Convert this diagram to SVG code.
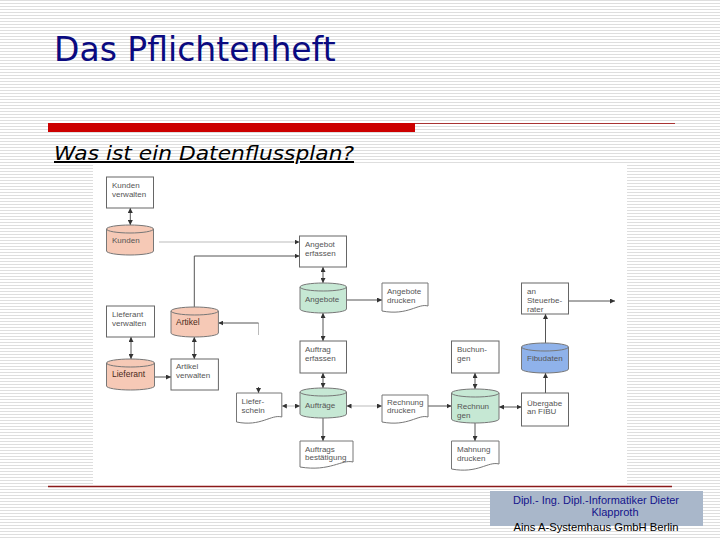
<svg xmlns="http://www.w3.org/2000/svg" width="720" height="540" viewBox="0 0 720 540">
<defs>
<pattern id="stripes" width="8" height="3" patternUnits="userSpaceOnUse">
<rect width="8" height="3" fill="#ffffff"/>
<rect width="8" height="1" fill="#dedede"/>
</pattern>
<marker id="ah" viewBox="0 0 10 10" refX="10" refY="5" markerWidth="5" markerHeight="5" markerUnits="userSpaceOnUse" orient="auto-start-reverse">
<path d="M0,0 L10,5 L0,10 z" fill="#333"/>
</marker>
</defs>
<style>
.box{fill:#fff;stroke:#666;stroke-width:1}
.doc{fill:#fff;stroke:#777;stroke-width:1}
.cs{fill:#f6c9b6;stroke:#777;stroke-width:1}
.cg{fill:#c6e8d4;stroke:#777;stroke-width:1}
.cb{fill:#8fb2ea;stroke:#777;stroke-width:1}
.rim{fill:none;stroke:#777;stroke-width:1}
.t{font-family:"Liberation Sans",Arial,sans-serif;font-size:8px;fill:#555}
.td{font-family:"Liberation Sans",Arial,sans-serif;font-size:8.5px;fill:#4a2a20}
.c{fill:none;stroke:#555;stroke-width:1}
.cl{fill:none;stroke:#bbb;stroke-width:1}
.b{marker-end:url(#ah)}
.bb{marker-start:url(#ah);marker-end:url(#ah)}
</style>
<rect width="720" height="540" fill="url(#stripes)"/>
<text x="54" y="61" font-family="DejaVu Sans, Verdana, sans-serif" font-size="33" fill="#0a0a80">Das Pflichtenheft</text>
<rect x="48" y="123" width="367" height="9" fill="#cc0000"/>
<line x1="415" y1="123.5" x2="675" y2="123.5" stroke="#a83232" stroke-width="1"/>
<text x="54" y="160" font-family="DejaVu Sans, Verdana, sans-serif" font-style="italic" font-size="20" fill="#000" text-decoration="underline" textLength="300" lengthAdjust="spacingAndGlyphs">Was ist ein Datenflussplan?</text>
<rect x="93" y="165" width="534" height="320" fill="#ffffff"/>
<line x1="48" y1="486.5" x2="672" y2="486.5" stroke="#8b1a1a" stroke-width="1.5"/>

<g id="connectors">
<path class="c bb" d="M130.3,208 V225"/>
<path class="cl b" d="M159,242 H299.5"/>
<path class="c b" d="M194.3,307 V256 H299.5"/>
<path class="c bb" d="M323,267 V283"/>
<path class="c b" d="M346.5,300 H382" stroke-width="1.6"/>
<path class="c bb" d="M323,313 V341"/>
<path class="c bb" d="M131,337 V359"/>
<path class="c bb" d="M194.3,337 V359"/>
<path class="c b" d="M154.4,377 H171"/>
<path class="cl" d="M258.5,335 V323"/>
<path class="c b" d="M258.5,323 H218.4"/>
<path class="c b" d="M258.5,387 V393"/>
<path class="c bb" d="M323,373 V388"/>
<path class="cl bb" d="M281.8,406 H300"/>
<path class="cl bb" d="M346.5,406 H382"/>
<path class="c b" d="M323,418 V441"/>
<path class="c b" d="M428,406 H451.5"/>
<path class="c bb" d="M475,373 V389"/>
<path class="c b" d="M475,423 V441"/>
<path class="c bb" d="M499,407 H521.5"/>
<path class="c b" d="M545.5,393 V373"/>
<path class="c b" d="M545.5,343 V314"/>
<path class="c b" d="M568.5,301 H615"/>
</g>

<g id="kunden-verwalten">
<rect class="box" x="106.5" y="177" width="47" height="31"/>
<text class="t" x="112" y="188">Kunden</text>
<text class="t" x="112" y="196.5">verwalten</text>
</g>
<g id="kunden">
<path class="cs" d="M106.5,229 A23.5,4 0 0 1 153.5,229 V251 A23.5,4 0 0 1 106.5,251 Z"/>
<path class="rim" d="M106.5,229 A23.5,4 0 0 0 153.5,229"/>
<text class="t" x="112" y="243">Kunden</text>
</g>
<g id="angebot-erfassen">
<rect class="box" x="299.5" y="236" width="47" height="31"/>
<text class="t" x="305" y="246.5">Angebot</text>
<text class="t" x="305" y="255.5">erfassen</text>
</g>
<g id="angebote">
<path class="cg" d="M300,287 A23.25,4 0 0 1 346.5,287 V309 A23.25,4 0 0 1 300,309 Z"/>
<path class="rim" d="M300,287 A23.25,4 0 0 0 346.5,287"/>
<text class="t" x="305" y="301.5">Angebote</text>
</g>
<g id="angebote-drucken">
<path class="doc" d="M382,311 V283 H428 V306 C418,303 408,316 382,311 Z"/>
<text class="t" x="387" y="294">Angebote</text>
<text class="t" x="387" y="302.5">drucken</text>
</g>
<g id="lieferant-verwalten">
<rect class="box" x="106.5" y="306" width="48" height="31"/>
<text class="t" x="112" y="316.5">Lieferant</text>
<text class="t" x="112" y="325.5">verwalten</text>
</g>
<g id="artikel">
<path class="cs" d="M171,311 A23.7,4 0 0 1 218.4,311 V333 A23.7,4 0 0 1 171,333 Z"/>
<path class="rim" d="M171,311 A23.7,4 0 0 0 218.4,311"/>
<text class="td" x="176" y="325">Artikel</text>
</g>
<g id="lieferant">
<path class="cs" d="M106.5,363 A24,4 0 0 1 154.5,363 V386 A24,4 0 0 1 106.5,386 Z"/>
<path class="rim" d="M106.5,363 A24,4 0 0 0 154.5,363"/>
<text class="td" x="112" y="376.5">Lieferant</text>
</g>
<g id="artikel-verwalten">
<rect class="box" x="171" y="359" width="47.4" height="31"/>
<text class="t" x="176" y="369">Artikel</text>
<text class="t" x="176" y="378">verwalten</text>
</g>
<g id="auftrag-erfassen">
<rect class="box" x="300" y="341" width="46.5" height="32"/>
<text class="t" x="305" y="352">Auftrag</text>
<text class="t" x="305" y="361">erfassen</text>
</g>
<g id="lieferschein">
<path class="doc" d="M236.5,422 V393 H281.8 V417 C271,414 261,427 236.5,422 Z"/>
<text class="t" x="241.5" y="404">Liefer-</text>
<text class="t" x="241.5" y="413">schein</text>
</g>
<g id="auftraege">
<path class="cg" d="M300,392 A23.25,4 0 0 1 346.5,392 V414 A23.25,4 0 0 1 300,414 Z"/>
<path class="rim" d="M300,392 A23.25,4 0 0 0 346.5,392"/>
<text class="t" x="305" y="407.5">Aufträge</text>
</g>
<g id="rechnung-drucken">
<path class="doc" d="M382,422 V395 H428 V417 C418,414 408,427 382,422 Z"/>
<text class="t" x="387" y="405">Rechnung</text>
<text class="t" x="387" y="413">drucken</text>
</g>
<g id="auftragsbestaetigung">
<path class="doc" d="M300,467 V441 H353 V462 C342,459 330,472 300,467 Z"/>
<text class="t" x="305" y="451.5">Auftrags</text>
<text class="t" x="305" y="460">bestätigung</text>
</g>
<g id="buchungen">
<rect class="box" x="451.5" y="341" width="47.5" height="32"/>
<text class="t" x="457" y="352">Buchun-</text>
<text class="t" x="457" y="361">gen</text>
</g>
<g id="rechnungen">
<path class="cg" d="M451.5,393 A23.75,4 0 0 1 499,393 V419 A23.75,4 0 0 1 451.5,419 Z"/>
<path class="rim" d="M451.5,393 A23.75,4 0 0 0 499,393"/>
<text class="t" x="457" y="409">Rechnun</text>
<text class="t" x="457" y="417.5">gen</text>
</g>
<g id="mahnung-drucken">
<path class="doc" d="M451.5,469 V441 H499 V464 C488,461 478,474 451.5,469 Z"/>
<text class="t" x="457" y="452">Mahnung</text>
<text class="t" x="457" y="460.5">drucken</text>
</g>
<g id="uebergabe-fibu">
<rect class="box" x="521.5" y="393" width="47" height="33"/>
<text class="t" x="527" y="405.5">Übergabe</text>
<text class="t" x="527" y="414">an FIBU</text>
</g>
<g id="fibudaten">
<path class="cb" d="M521.5,347 A23.5,4 0 0 1 568.5,347 V369 A23.5,4 0 0 1 521.5,369 Z"/>
<path class="rim" d="M521.5,347 A23.5,4 0 0 0 568.5,347"/>
<text class="t" x="527" y="360.5">Fibudaten</text>
</g>
<g id="an-steuerberater">
<rect class="box" x="521.5" y="283" width="47" height="31"/>
<text class="t" x="527" y="294">an</text>
<text class="t" x="527" y="303">Steuerbe-</text>
<text class="t" x="527" y="312">rater</text>
</g>

<g id="footer">
<rect x="490" y="491" width="213" height="35" fill="#a9b7ca"/>
<text x="596" y="504" text-anchor="middle" font-family="Liberation Sans, Arial, sans-serif" font-size="11" fill="#14148a" textLength="166" lengthAdjust="spacingAndGlyphs">Dipl.- Ing. Dipl.-Informatiker Dieter</text>
<text x="615" y="516" text-anchor="middle" font-family="Liberation Sans, Arial, sans-serif" font-size="11" fill="#14148a">Klapproth</text>
<text x="596" y="531" text-anchor="middle" font-family="Liberation Sans, Arial, sans-serif" font-size="11" fill="#000" textLength="165" lengthAdjust="spacingAndGlyphs">Ains A-Systemhaus GmbH  Berlin</text>
</g>
</svg>
